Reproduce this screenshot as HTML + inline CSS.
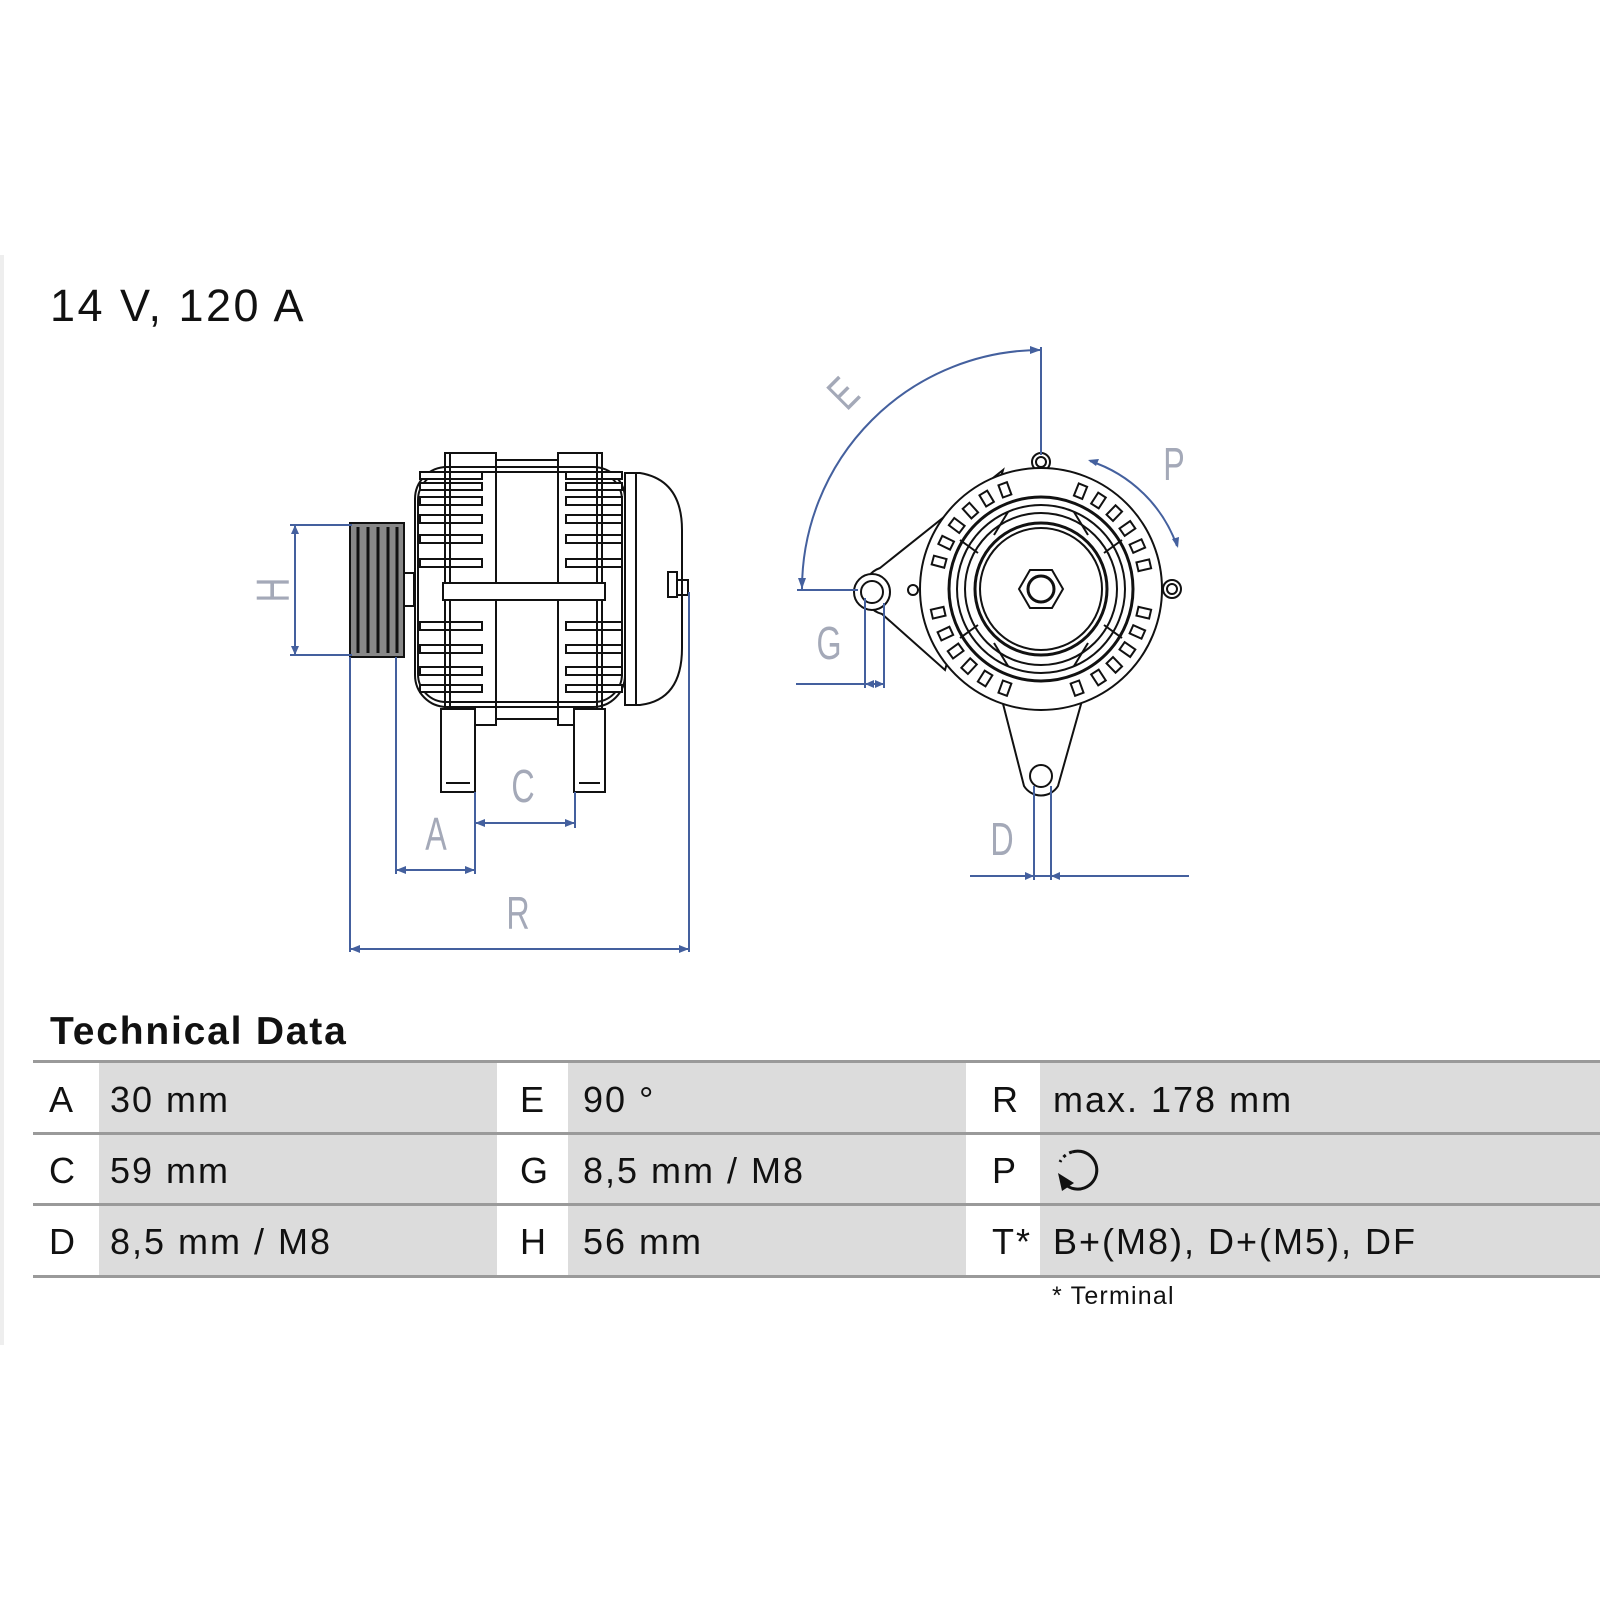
<!DOCTYPE html>
<html><head><meta charset="utf-8"><style>
html,body{margin:0;padding:0;background:#fff;}
body{width:1600px;height:1600px;position:relative;overflow:hidden;font-family:"Liberation Sans",sans-serif;}
svg{position:absolute;left:0;top:0;}
</style></head><body>
<svg width="1600" height="1600" viewBox="0 0 1600 1600" xmlns="http://www.w3.org/2000/svg">
<defs>
<rect id="slot" x="-4.5" y="-112" width="9" height="13" fill="none" stroke="#111" stroke-width="2"/>
</defs>
<rect x="0" y="255" width="4" height="1090" fill="#eee"/>
<text x="50" y="321" font-size="45" letter-spacing="2.5" fill="#111">14 V, 120 A</text>

<!-- SIDE VIEW -->
<g fill="none" stroke="#111" stroke-width="2">
 <rect x="350" y="523" width="54" height="134" fill="#888"/>
 <g stroke="#111" stroke-width="3">
  <line x1="358" y1="527" x2="358" y2="653"/><line x1="368" y1="527" x2="368" y2="653"/>
  <line x1="378" y1="527" x2="378" y2="653"/><line x1="388" y1="527" x2="388" y2="653"/>
  <line x1="397" y1="527" x2="397" y2="653"/>
 </g>
 <rect x="404" y="573" width="10" height="33"/>
 <rect x="415" y="467" width="210" height="240" rx="32"/>
 <rect x="418" y="472" width="204" height="230" rx="28"/>
 <g fill="#fff">
  <rect x="420" y="472" width="62" height="7"/><rect x="420" y="483" width="62" height="7"/>
  <rect x="420" y="497" width="62" height="8"/><rect x="420" y="515" width="62" height="8"/>
  <rect x="420" y="535" width="62" height="8"/><rect x="420" y="559" width="62" height="8"/>
  <rect x="420" y="622" width="62" height="8"/><rect x="420" y="645" width="62" height="8"/>
  <rect x="420" y="667" width="62" height="8"/><rect x="420" y="685" width="62" height="7"/>
  <rect x="566" y="472" width="56" height="7"/><rect x="566" y="483" width="56" height="7"/>
  <rect x="566" y="497" width="56" height="8"/><rect x="566" y="515" width="56" height="8"/>
  <rect x="566" y="535" width="56" height="8"/><rect x="566" y="559" width="56" height="8"/>
  <rect x="566" y="622" width="56" height="8"/><rect x="566" y="645" width="56" height="8"/>
  <rect x="566" y="667" width="56" height="8"/><rect x="566" y="685" width="56" height="7"/>
 </g>
 <rect x="445" y="453" width="51" height="272"/>
 <rect x="558" y="453" width="44" height="272"/>
 <line x1="450" y1="453" x2="450" y2="725"/><line x1="597" y1="453" x2="597" y2="725"/>
 <rect x="496" y="460" width="62" height="12"/>
 <rect x="496" y="707" width="62" height="12"/>
 <rect x="443" y="583" width="162" height="17" fill="#fff"/>
 <path d="M625 473 L640 473 Q682 480 682 530 L682 648 Q682 700 640 705 L625 705 Z" fill="#fff"/>
 <line x1="636" y1="474" x2="636" y2="704"/>
 <rect x="668" y="572" width="9" height="25"/><rect x="677" y="580" width="11" height="15"/>
 <rect x="441" y="709" width="34" height="83" fill="#fff"/>
 <rect x="574" y="709" width="31" height="83" fill="#fff"/>
 <line x1="446" y1="783" x2="470" y2="783"/><line x1="579" y1="783" x2="600" y2="783"/>
</g>
<g stroke="#44609e" stroke-width="2" fill="none">
 <line x1="295" y1="525" x2="295" y2="655"/>
 <line x1="290" y1="525" x2="352" y2="525"/><line x1="290" y1="655" x2="352" y2="655"/>
 <line x1="350" y1="657" x2="350" y2="952"/><line x1="689" y1="592" x2="689" y2="952"/>
 <line x1="350" y1="949" x2="689" y2="949"/>
 <line x1="396" y1="657" x2="396" y2="874"/><line x1="475" y1="792" x2="475" y2="874"/>
 <line x1="396" y1="870" x2="475" y2="870"/>
 <line x1="575" y1="792" x2="575" y2="828"/><line x1="475" y1="823" x2="575" y2="823"/>
</g>
<g fill="#44609e">
 <path d="M295 525 l-4 9 h8z"/><path d="M295 655 l-4 -9 h8z"/>
 <path d="M350 949 l10 -4 v8z"/><path d="M689 949 l-10 -4 v8z"/>
 <path d="M396 870 l10 -4 v8z"/><path d="M475 870 l-10 -4 v8z"/>
 <path d="M475 823 l10 -4 v8z"/><path d="M575 823 l-10 -4 v8z"/>
</g>
<g fill="#a4a9b8" font-size="46" font-family="Liberation Sans, sans-serif" text-anchor="middle">
 <text transform="translate(273,590) rotate(-90) scale(0.75,1)" y="16">H</text>
 <text transform="translate(436,834) scale(0.7,1)" y="16">A</text>
 <text transform="translate(523,786) scale(0.7,1)" y="16">C</text>
 <text transform="translate(518,913) scale(0.7,1)" y="16">R</text>
 <text transform="translate(829,643) scale(0.7,1)" y="16">G</text>
 <text transform="translate(1002,839) scale(0.7,1)" y="16">D</text>
 <text transform="translate(1174,464) scale(0.7,1)" y="16">P</text>
 <text transform="translate(843,393) rotate(-45) scale(0.7,1)" y="16">E</text>
</g>

<!-- FRONT VIEW -->
<g fill="none" stroke="#111" stroke-width="2">
 <path d="M1003 470 L880 568 A24 24 0 0 0 882 614 L945 670 Z" fill="#fff"/>
 <path d="M1000 692 L1024 786 A20 20 0 0 0 1058 786 L1085 690 Z" fill="#fff"/>
 <circle cx="1041" cy="462" r="9" fill="#fff"/>
 <circle cx="1172" cy="589" r="9" fill="#fff"/>
 <circle cx="1041" cy="589" r="121" fill="#fff"/>
 <circle cx="1041" cy="462" r="5"/><circle cx="1172" cy="589" r="5"/>
 <circle cx="872" cy="592" r="18" fill="#fff"/><circle cx="872" cy="592" r="11"/>
 <circle cx="913" cy="590" r="5"/>
 <circle cx="1041" cy="776" r="11"/>
 <g transform="translate(1041,589)">
  <use href="#slot" transform="rotate(22)"/><use href="#slot" transform="rotate(33)"/><use href="#slot" transform="rotate(44)"/><use href="#slot" transform="rotate(55)"/><use href="#slot" transform="rotate(66)"/><use href="#slot" transform="rotate(77)"/>
  <use href="#slot" transform="rotate(103)"/><use href="#slot" transform="rotate(114)"/><use href="#slot" transform="rotate(125)"/><use href="#slot" transform="rotate(136)"/><use href="#slot" transform="rotate(147)"/><use href="#slot" transform="rotate(160)"/>
  <use href="#slot" transform="rotate(200)"/><use href="#slot" transform="rotate(212)"/><use href="#slot" transform="rotate(223)"/><use href="#slot" transform="rotate(234)"/><use href="#slot" transform="rotate(245)"/><use href="#slot" transform="rotate(257)"/>
  <use href="#slot" transform="rotate(285)"/><use href="#slot" transform="rotate(296)"/><use href="#slot" transform="rotate(307)"/><use href="#slot" transform="rotate(318)"/><use href="#slot" transform="rotate(329)"/><use href="#slot" transform="rotate(340)"/>
 </g>
 <circle cx="1041" cy="589" r="92" stroke-width="3"/>
 <circle cx="1041" cy="589" r="84"/>
 <circle cx="1041" cy="589" r="76"/>
 <circle cx="1041" cy="589" r="66" stroke-width="3"/>
 <circle cx="1041" cy="589" r="61" stroke-width="2"/>
 <g stroke-width="2">
  <line x1="994" y1="535" x2="1008" y2="512"/><line x1="1088" y1="535" x2="1074" y2="512"/>
  <line x1="994" y1="643" x2="1008" y2="666"/><line x1="1088" y1="643" x2="1074" y2="666"/>
  <line x1="978" y1="553" x2="960" y2="540"/><line x1="1104" y1="553" x2="1122" y2="540"/>
  <line x1="978" y1="625" x2="960" y2="638"/><line x1="1104" y1="625" x2="1122" y2="638"/>
 </g>
 <polygon points="1063,589 1052,608 1030,608 1019,589 1030,570 1052,570" stroke-width="2"/>
 <circle cx="1041" cy="589" r="13" stroke-width="3"/>
</g>
<g stroke="#44609e" stroke-width="2" fill="none">
 <path d="M1041 350 A239 239 0 0 0 802 589"/>
 <line x1="1041" y1="347" x2="1041" y2="455"/>
 <line x1="797" y1="590" x2="858" y2="590"/>
 <path d="M1090 461 A138 138 0 0 1 1177 546"/>
 <line x1="865" y1="598" x2="865" y2="688"/><line x1="884" y1="603" x2="884" y2="688"/>
 <line x1="796" y1="684" x2="884" y2="684"/>
 <line x1="1034" y1="786" x2="1034" y2="880"/><line x1="1051" y1="786" x2="1051" y2="880"/>
 <line x1="970" y1="876" x2="1189" y2="876"/>
</g>
<g fill="#44609e">
 <path d="M1041 350 l-11 -4 v8z"/><path d="M802 589 l-4 -11 h8z"/>
 <path d="M1088 460 l11 -1 l-3 7z"/><path d="M1178 548 l-6 -9 l7 -2z"/>
 <path d="M865 684 l9 -4 v8z"/><path d="M884 684 l-9 -4 v8z"/>
 <path d="M1034 876 l-9 -4 v8z"/><path d="M1051 876 l9 -4 v8z"/>
</g>

<!-- TABLE -->
<text x="50" y="1044" font-size="39" font-weight="bold" letter-spacing="1.8" fill="#111">Technical Data</text>
<g fill="#dcdcdc">
 <rect x="99" y="1062" width="398" height="71"/><rect x="568" y="1062" width="398" height="71"/><rect x="1040" y="1062" width="560" height="71"/>
 <rect x="99" y="1133" width="398" height="72"/><rect x="568" y="1133" width="398" height="72"/><rect x="1040" y="1133" width="560" height="72"/>
 <rect x="99" y="1205" width="398" height="72"/><rect x="568" y="1205" width="398" height="72"/><rect x="1040" y="1205" width="560" height="72"/>
</g>
<g fill="#9a9a9a">
 <rect x="33" y="1060" width="1567" height="3"/>
 <rect x="33" y="1132" width="1567" height="3"/>
 <rect x="33" y="1203" width="1567" height="3"/>
 <rect x="33" y="1275" width="1567" height="3"/>
</g>
<g font-size="36" letter-spacing="2" fill="#111">
 <text x="49" y="1112">A</text><text x="110" y="1112">30 mm</text>
 <text x="520" y="1112">E</text><text x="583" y="1112">90 °</text>
 <text x="992" y="1112">R</text><text x="1053" y="1112">max. 178 mm</text>
 <text x="49" y="1183">C</text><text x="110" y="1183">59 mm</text>
 <text x="520" y="1183">G</text><text x="583" y="1183">8,5 mm / M8</text>
 <text x="992" y="1183">P</text>
 <text x="49" y="1254">D</text><text x="110" y="1254">8,5 mm / M8</text>
 <text x="520" y="1254">H</text><text x="583" y="1254">56 mm</text>
 <text x="992" y="1254">T*</text><text x="1053" y="1254">B+(M8), D+(M5), DF</text>
</g>
<g fill="none" stroke="#111" stroke-width="3">
 <path d="M1066 1185 A19 19 0 1 0 1072 1152" />
 <path d="M1072 1152 A19 19 0 0 0 1060 1162" stroke-dasharray="3 4"/>
</g>
<path d="M1058 1173 l4 18 l12 -8 z" fill="#111"/>
<text x="1052" y="1304" font-size="25" letter-spacing="1.2" fill="#111">* Terminal</text>
</svg>
</body></html>
